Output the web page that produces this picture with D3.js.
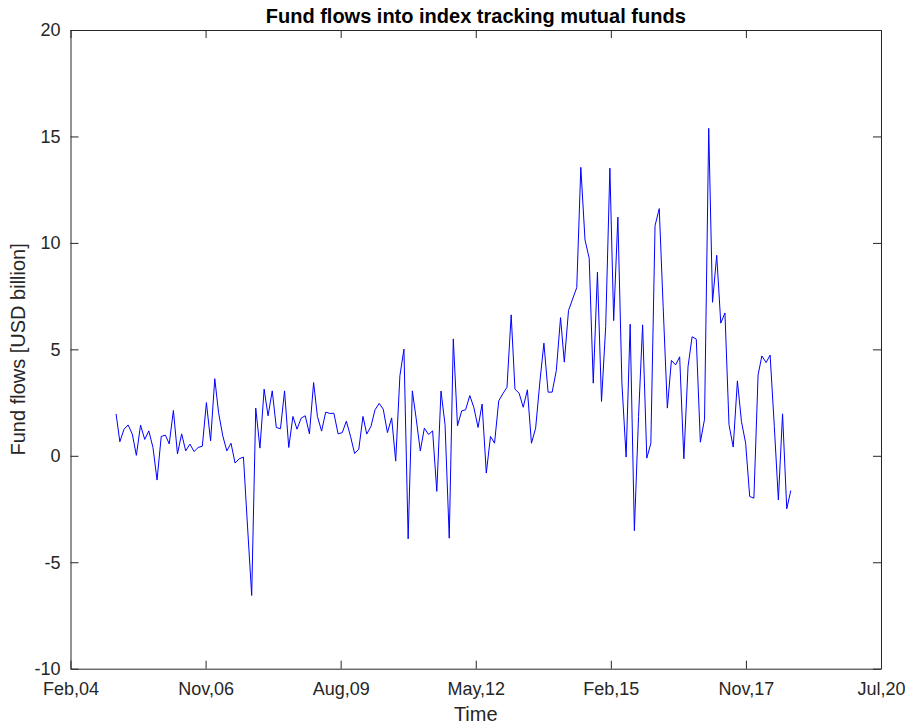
<!DOCTYPE html>
<html>
<head>
<meta charset="utf-8">
<script src="https://cdn.jsdelivr.net/npm/d3@7"></script>
<style>
  html, body { margin: 0; padding: 0; background: #ffffff; }
  svg { display: block; font-family: "Liberation Sans", Arial, Helvetica, sans-serif; }
</style>
</head>
<body>
<svg id="chart" width="910" height="726"></svg>
<script>
// Monthly fund flows (USD billion), month-end observations from Jan 2005 onward
const firstMonth = "2005-01-31";
const flows = [
  1.97, 0.66, 1.25, 1.45, 1.02, 0.02, 1.44, 0.77, 1.17, 0.39,
  -1.14, 0.91, 0.97, 0.56, 2.13, 0.09, 1.03, 0.23, 0.55, 0.20,
  0.39, 0.45, 2.50, 0.70, 3.62, 2.03, 0.94, 0.23, 0.59, -0.34,
  -0.14, -0.06, -3.30, -6.56, 2.24, 0.36, 3.13, 1.88, 3.05, 1.33,
  1.27, 3.05, 0.39, 1.85, 1.25, 1.77, 1.88, 1.03, 3.44, 1.85,
  1.16, 2.05, 1.99, 2.00, 1.03, 1.09, 1.63, 0.91, 0.11, 0.31,
  1.85, 1.02, 1.38, 2.16, 2.46, 2.19, 1.09, 1.78, -0.25, 3.76,
  5.01, -3.90, 3.05, 1.77, 0.23, 1.30, 1.00, 1.17, -1.67, 3.04,
  1.46, -3.87, 5.49, 1.41, 2.11, 2.16, 2.83, 2.27, 1.33, 2.43,
  -0.81, 0.91, 0.59, 2.58, 2.91, 3.22, 6.62, 3.13, 2.94, 2.28,
  3.10, 0.59, 1.30, 3.46, 5.29, 2.99, 2.99, 4.01, 6.49, 4.40,
  6.82, 7.36, 7.90, 13.55, 10.14, 9.28, 3.41, 8.62, 2.55, 6.07,
  13.51, 6.35, 11.21, 3.41, -0.06, 6.18, -3.52, 1.85, 6.15, -0.11,
  0.59, 10.81, 11.61, 7.00, 2.24, 4.48, 4.27, 4.65, -0.14, 4.19,
  5.59, 5.48, 0.64, 1.72, 15.38, 7.21, 9.42, 6.23, 6.71, 1.46,
  0.41, 3.52, 1.61, 0.59, -1.91, -1.99, 3.80, 4.69, 4.38, 4.73,
  1.38, -2.07, 1.97, -2.49, -1.63
];

// Axis limits and ticks
const xStart = "2004-02-29";
const tickStepDays = 999;
const xTickLabels = ["Feb,04", "Nov,06", "Aug,09", "May,12", "Feb,15", "Nov,17", "Jul,20"];
const yDomain = [-10, 20];
const yTicks = [-10, -5, 0, 5, 10, 15, 20];
const yTickLabels = ["-10", "-5", "0", "5", "10", "15", "20"];

const titleText = "Fund flows into index tracking mutual funds";
const xLabelText = "Time";
const yLabelText = "Fund flows [USD billion]";

(function draw() {
  // Build dated records
  const parse = d3.utcParse("%Y-%m-%d");
  const month0 = parse(firstMonth);
  const records = flows.map((v, i) => ({
    date: d3.utcDay.offset(d3.utcMonth.offset(d3.utcMonth.floor(month0), i + 1), -1),
    value: v
  }));

  const start = parse(xStart);
  const tickDates = xTickLabels.map((_, i) => d3.utcDay.offset(start, i * tickStepDays));

  // Layout
  const svg = d3.select("#chart");
  const plotLeft = 70.5, plotRight = 881, plotTop = 30, plotBottom = 668.7;
  const axisColor = "#262626";
  const tickLen = 8;

  const x = d3.scaleUtc()
    .domain([tickDates[0], tickDates[tickDates.length - 1]])
    .range([plotLeft, plotRight]);
  const y = d3.scaleLinear().domain(yDomain).range([plotBottom, plotTop]);

  // Data line
  const line = d3.line()
    .x(d => x(d.date))
    .y(d => y(d.value));

  svg.append("path")
    .datum(records)
    .attr("fill", "none")
    .attr("stroke", "#0000ff")
    .attr("stroke-width", 1)
    .attr("stroke-linejoin", "round")
    .attr("d", line);

  // Boxed axes with inward ticks on all four sides
  const xLabelFor = new Map(tickDates.map((d, i) => [+d, xTickLabels[i]]));
  const yLabelFor = new Map(yTicks.map((v, i) => [v, yTickLabels[i]]));

  const gxb = svg.append("g")
    .attr("transform", `translate(0,${plotBottom})`)
    .call(d3.axisBottom(x)
      .tickValues(tickDates)
      .tickSizeInner(-tickLen)
      .tickSizeOuter(0)
      .tickPadding(14)
      .tickFormat(d => xLabelFor.get(+d)));

  const gxt = svg.append("g")
    .attr("transform", `translate(0,${plotTop})`)
    .call(d3.axisTop(x)
      .tickValues(tickDates)
      .tickSizeInner(-tickLen)
      .tickSizeOuter(0)
      .tickFormat(""));

  const gyl = svg.append("g")
    .attr("transform", `translate(${plotLeft},0)`)
    .call(d3.axisLeft(y)
      .tickValues(yTicks)
      .tickSizeInner(-tickLen)
      .tickSizeOuter(0)
      .tickPadding(10)
      .tickFormat(v => yLabelFor.get(v)));

  const gyr = svg.append("g")
    .attr("transform", `translate(${plotRight},0)`)
    .call(d3.axisRight(y)
      .tickValues(yTicks)
      .tickSizeInner(-tickLen)
      .tickSizeOuter(0)
      .tickFormat(""));

  [gxb, gxt, gyl, gyr].forEach(g => {
    g.select(".domain").attr("stroke", axisColor).attr("stroke-width", 1);
    g.selectAll(".tick line").attr("stroke", axisColor).attr("stroke-width", 1);
    g.selectAll(".tick text")
      .attr("fill", axisColor)
      .style("font-size", "18px")
      .style("font-family", "'Liberation Sans', Arial, Helvetica, sans-serif");
  });

  // Title and axis labels
  svg.append("text")
    .attr("x", (plotLeft + plotRight) / 2)
    .attr("y", 23)
    .attr("text-anchor", "middle")
    .attr("fill", "#000000")
    .style("font-size", "20px")
    .style("font-weight", "bold")
    .text(titleText);

  svg.append("text")
    .attr("x", (plotLeft + plotRight) / 2)
    .attr("y", 721)
    .attr("text-anchor", "middle")
    .attr("fill", axisColor)
    .style("font-size", "20px")
    .text(xLabelText);

  svg.append("text")
    .attr("transform", `translate(25,${(plotTop + plotBottom) / 2}) rotate(-90)`)
    .attr("text-anchor", "middle")
    .attr("fill", axisColor)
    .style("font-size", "20px")
    .text(yLabelText);
})();
</script>
</body>
</html>
